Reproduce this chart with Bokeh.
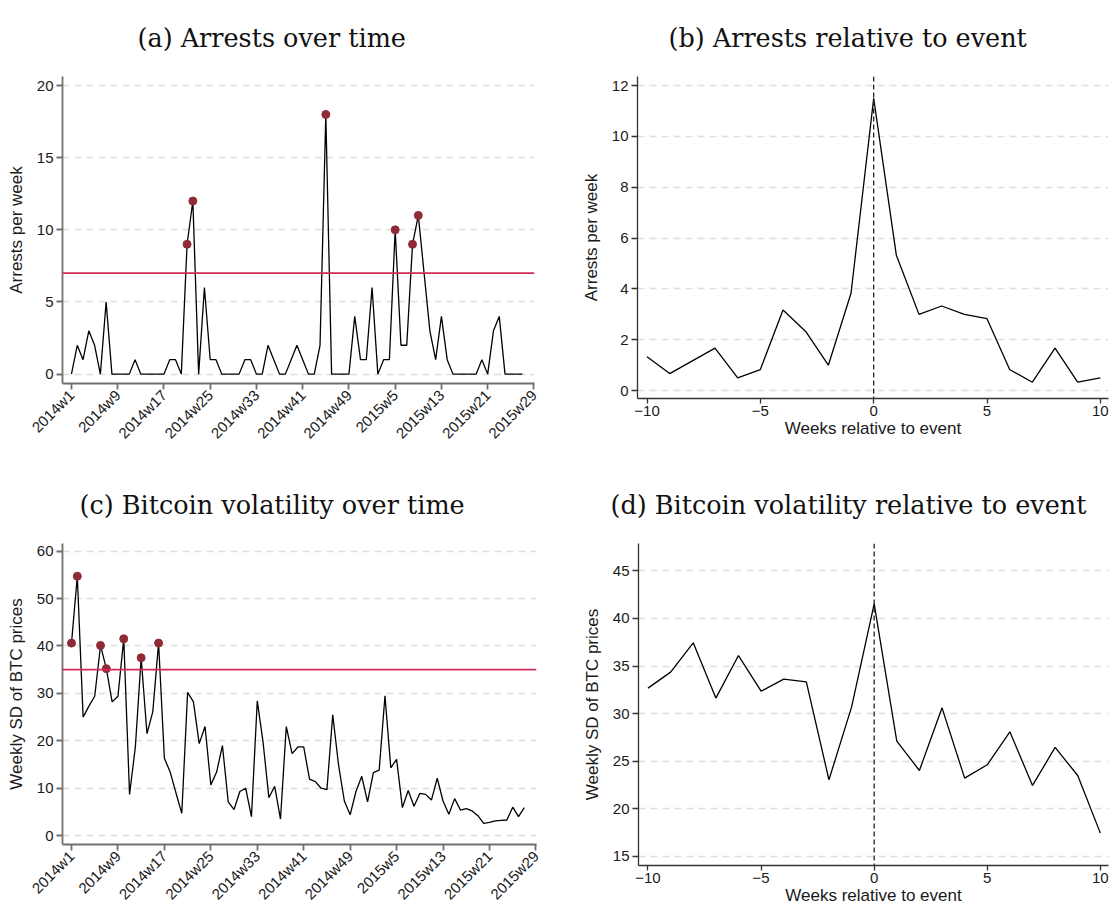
import math
from bokeh.plotting import figure
from bokeh.models import FixedTicker, Span, Range1d, Title
from bokeh.layouts import column, row
from bokeh.embed import file_html
from bokeh.resources import INLINE

# ---------------- data ----------------
weeks = list(range(79))  # 0 = 2014w1 ... 78 = 2015w27
week_tick_pos = [0, 8, 16, 24, 32, 40, 48, 56, 64, 72, 80]
week_tick_labels = ["2014w1", "2014w9", "2014w17", "2014w25", "2014w33", "2014w41",
                    "2014w49", "2015w5", "2015w13", "2015w21", "2015w29"]

arrests = [0, 2, 1, 3, 2, 0, 5, 0, 0, 0,
           0, 1, 0, 0, 0, 0, 0, 1, 1, 0,
           9, 12, 0, 6, 1, 1, 0, 0, 0, 0,
           1, 1, 0, 0, 2, 1, 0, 0, 1, 2,
           1, 0, 0, 2, 18, 0, 0, 0, 0, 4,
           1, 1, 6, 0, 1, 1, 10, 2, 2, 9,
           11, 7, 3, 1, 4, 1, 0, 0, 0, 0,
           0, 1, 0, 3, 4, 0, 0, 0, 0]
arrests_threshold = 7

volatility = [40.6, 54.7, 25.0, 27.3, 29.4, 40.1, 35.2, 28.2, 29.4, 41.5,
              8.7, 18.7, 37.5, 21.5, 26.1, 40.6, 16.3, 13.4, 9.0, 4.7,
              30.2, 28.2, 19.4, 23.0, 10.7, 13.4, 19.0, 7.1, 5.5, 9.3,
              10.0, 4.0, 28.4, 19.7, 8.0, 10.4, 3.5, 23.0, 17.3, 18.7,
              18.7, 11.9, 11.4, 10.0, 9.7, 25.5, 14.9, 7.3, 4.4, 9.3,
              12.5, 7.1, 13.3, 13.8, 29.5, 14.3, 16.1, 5.9, 9.5, 6.2,
              8.9, 8.7, 7.5, 12.1, 7.3, 4.5, 7.8, 5.4, 5.7, 5.2,
              4.2, 2.6, 2.8, 3.1, 3.2, 3.3, 6.0, 4.0, 5.9]
volatility_threshold = 35

rel_weeks = list(range(-10, 11))
arrests_rel = [1.33, 0.67, 1.17, 1.67, 0.50, 0.83, 3.17, 2.33, 1.00, 3.83, 11.50,
               5.33, 3.00, 3.33, 3.00, 2.83, 0.83, 0.33, 1.67, 0.33, 0.50]
volatility_rel = [32.68, 34.36, 37.44, 31.63, 36.10, 32.36, 33.62, 33.34, 23.05, 30.68, 41.53,
                  27.11, 24.03, 30.61, 23.23, 24.63, 28.09, 22.46, 26.45, 23.50, 17.45]

titles = ["(a) Arrests over time", "(b) Arrests relative to event",
          "(c) Bitcoin volatility over time", "(d) Bitcoin volatility relative to event"]

# ---------------- style ----------------
SANS = "Liberation Sans"
SERIF = "DejaVu Serif"
GRID = "#dedede"
MARK = "#8f2b36"
RED = "#d42a57"


def base_fig(w, h, xr, yr, borders, title, toff, axis_col, axis_w):
    l, r, t, b = borders
    p = figure(width=w, height=h, x_range=Range1d(*xr), y_range=Range1d(*yr),
               output_backend="svg", toolbar_location=None, title=None,
               min_border_left=l, min_border_right=r, min_border_top=t, min_border_bottom=b)
    p.outline_line_color = None
    p.background_fill_color = "white"
    p.border_fill_color = "white"
    p.add_layout(Title(text=title, align="left", vertical_align="top", offset=toff, standoff=44,
                       text_font=SERIF, text_font_size="25.5px", text_font_style="normal",
                       text_color="#111111"), "above")
    for ax in (p.xaxis[0], p.yaxis[0]):
        ax.axis_line_color = axis_col
        ax.axis_line_width = axis_w
        ax.major_tick_line_color = axis_col
        ax.major_tick_line_width = axis_w
        ax.major_tick_out = 6
        ax.major_tick_in = 0
        ax.minor_tick_line_color = None
        ax.major_label_text_font = SANS
        ax.major_label_text_font_size = "15px"
        ax.major_label_text_color = "#1a1a1a"
        ax.major_label_standoff = 3
        ax.axis_label_text_font = SANS
        ax.axis_label_text_font_size = "17px"
        ax.axis_label_text_font_style = "normal"
        ax.axis_label_text_color = "#1a1a1a"
    p.yaxis.axis_label_standoff = 8
    p.xaxis.axis_label_standoff = 1
    p.xgrid.grid_line_color = None
    p.ygrid.grid_line_color = GRID
    p.ygrid.grid_line_dash = "7 5"
    p.ygrid.grid_line_width = 1.3
    return p


def time_fig(h, yr, borders, title, toff, values, thr, yticks, ylabel):
    p = base_fig(560, h, (-1.55, 80.1), yr, borders, title, toff, "#707070", 1.8)
    p.xaxis.ticker = FixedTicker(ticks=week_tick_pos)
    p.xaxis.major_label_overrides = {k: v for k, v in zip(week_tick_pos, week_tick_labels)}
    p.xaxis.major_label_orientation = math.pi / 4
    p.yaxis.ticker = FixedTicker(ticks=yticks)
    p.ygrid.ticker = FixedTicker(ticks=yticks)
    p.yaxis.axis_label = ylabel
    p.add_layout(Span(location=thr, dimension="width", line_color=RED, line_width=1.6))
    p.line(weeks, values, line_color="black", line_width=1.3)
    mx = [w for w, v in zip(weeks, values) if v > thr]
    my = [v for v in values if v > thr]
    p.scatter(mx, my, size=8, fill_color=MARK, line_color=MARK)
    return p


def rel_fig(h, yr, borders, title, toff, values, yticks, ylabel):
    p = base_fig(555, h, (-10.42, 10.36), yr, borders, title, toff, "#333333", 1.3)
    p.xaxis.ticker = FixedTicker(ticks=[-10, -5, 0, 5, 10])
    p.yaxis.ticker = FixedTicker(ticks=yticks)
    p.ygrid.ticker = FixedTicker(ticks=yticks)
    p.xaxis.axis_label = "Weeks relative to event"
    p.yaxis.axis_label = ylabel
    p.xaxis.major_tick_out = 5
    p.xaxis.major_label_standoff = 2
    p.xaxis.axis_label_standoff = 0
    p.add_layout(Span(location=0, dimension="height", line_color="#222222",
                      line_width=1.3, line_dash="5 3"))
    p.line(rel_weeks, values, line_color="black", line_width=1.3)
    return p


pa = time_fig(467, (-0.65, 20.63), (62, 26, 76, 84), titles[0], 75, arrests, arrests_threshold,
              [0, 5, 10, 15, 20], "Arrests per week")
pb = rel_fig(467, (-0.31, 12.36), (77, 7, 76, 69), titles[1], 31, arrests_rel,
             [0, 2, 4, 6, 8, 10, 12], "Arrests per week")
pc = time_fig(444, (-1.87, 61.6), (62, 24, 76, 62), titles[2], 17, volatility, volatility_threshold,
              [0, 10, 20, 30, 40, 50, 60], "Weekly SD of BTC prices")
pd_ = rel_fig(444, (14.05, 47.87), (78, 7, 76, 46), titles[3], -28, volatility_rel,
              [15, 20, 25, 30, 35, 40, 45], "Weekly SD of BTC prices")

layout = column(row(column(pa), column(pb), spacing=0),
                row(column(pc), column(pd_), spacing=0), spacing=0)

open("out.html", "w").write(file_html(layout, INLINE))
